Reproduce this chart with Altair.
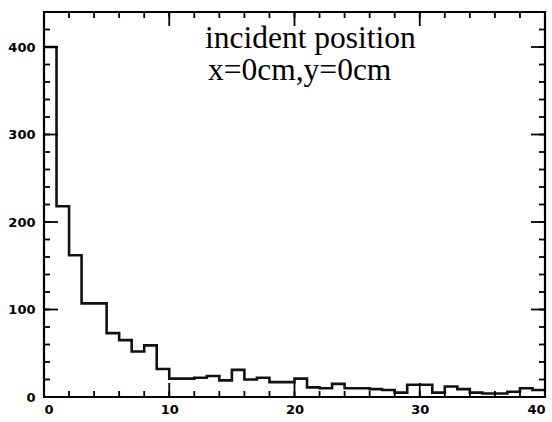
import altair as alt
import pandas as pd

# ---- data ----
bin_left = list(range(40))
counts = [400, 218, 162, 107, 107, 73, 65, 52, 59, 32,
          21, 21, 22, 24, 19, 31, 20, 22, 17, 17,
          21, 11, 10, 15, 10, 10, 9, 8, 5, 14,
          14, 5, 12, 9, 5, 4, 4, 6, 10, 8]
x_major = [0, 10, 20, 30, 40]
x_minor = [0, 2, 4, 6, 8, 10, 12, 14, 16, 18, 20, 22, 24, 26, 28, 30, 32, 34, 36, 38, 40]
y_major = [0, 100, 200, 300, 400]
y_minor = [0, 20, 40, 60, 80, 100, 120, 140, 160, 180, 200, 220, 240, 260, 280,
           300, 320, 340, 360, 380, 400, 420, 440]
annot_line1 = ["incident position"]
annot_line2 = ["x=0cm,y=0cm"]

W, H = 501, 385
MAJ, MIN = 14, 6

step_df = pd.DataFrame({"x": bin_left + [40], "n": counts + [counts[-1]]})

xscale = alt.Scale(domain=[0, 40], nice=False, zero=False)
yscale = alt.Scale(domain=[0, 440], nice=False)

lab = dict(labelFont="DejaVu Sans", labelFontWeight="bold", labelFontSize=13,
           labelColor="black", ticks=False, domain=False, grid=False, title=None)
xaxis = alt.Axis(values=x_major, labelPadding=6, **lab)
yaxis = alt.Axis(values=y_major, labelPadding=9, **lab)

hist = alt.Chart(step_df).mark_line(
    interpolate="step-after", color="#111111", strokeWidth=2.6
).encode(
    x=alt.X("x:Q", scale=xscale, axis=xaxis),
    y=alt.Y("n:Q", scale=yscale, axis=yaxis),
)

def xticks(vals, length):
    d = pd.DataFrame({"v": vals})
    base = alt.Chart(d).mark_rule(color="black", strokeWidth=1.8)
    bot = base.encode(x=alt.X("v:Q", scale=xscale, axis=xaxis),
                      y=alt.value(H), y2=alt.value(H - length))
    top = base.encode(x=alt.X("v:Q", scale=xscale, axis=xaxis),
                      y=alt.value(0), y2=alt.value(length))
    return [bot, top]

def yticks(vals, length):
    d = pd.DataFrame({"v": vals})
    base = alt.Chart(d).mark_rule(color="black", strokeWidth=1.8)
    left = base.encode(y=alt.Y("v:Q", scale=yscale, axis=yaxis),
                       x=alt.value(0), x2=alt.value(length))
    right = base.encode(y=alt.Y("v:Q", scale=yscale, axis=yaxis),
                        x=alt.value(W), x2=alt.value(W - length))
    return [left, right]

t1 = alt.Chart(pd.DataFrame({"t": annot_line1})).mark_text(
    align="left", baseline="alphabetic", font="Liberation Serif", fontSize=31.5, color="black"
).encode(text="t:N", x=alt.value(161), y=alt.value(36))
t2 = alt.Chart(pd.DataFrame({"t": annot_line2})).mark_text(
    align="left", baseline="alphabetic", font="Liberation Serif", fontSize=31.5, color="black"
).encode(text="t:N", x=alt.value(164), y=alt.value(68))

layers = [hist] + xticks(x_minor, MIN) + xticks(x_major, MAJ) + yticks(y_minor, MIN) + yticks(y_major, MAJ) + [t1, t2]

chart = alt.layer(*layers).properties(
    width=W, height=H,
    autosize=alt.AutoSizeParams(type="none"),
    padding={"left": 44, "top": 12, "right": 7, "bottom": 25},
    background="white",
).configure_view(stroke="black", strokeWidth=2.2)

chart.save("out.html", embed_options={"renderer": "svg", "actions": False})
